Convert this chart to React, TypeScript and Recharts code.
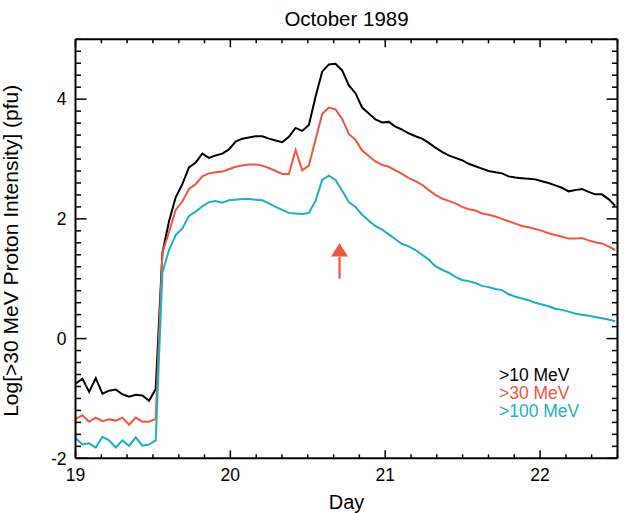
import React from "react"
import { LineChart, Line, XAxis, YAxis, Legend, ReferenceLine, ReferenceDot } from "recharts"

// sample times (day of October 1989)
const days = [
  19.002, 19.045, 19.088, 19.131, 19.174, 19.217, 19.260, 19.303, 19.346, 19.389,
  19.432, 19.475, 19.518, 19.561, 19.604, 19.647, 19.690, 19.733, 19.776, 19.819,
  19.862, 19.905, 19.948, 19.991, 20.034, 20.077, 20.120, 20.163, 20.206, 20.249,
  20.292, 20.335, 20.378, 20.421, 20.464, 20.507, 20.550, 20.593, 20.636, 20.679,
  20.722, 20.765, 20.808, 20.851, 20.894, 20.937, 20.980, 21.023, 21.066, 21.109,
  21.152, 21.195, 21.238, 21.281, 21.324, 21.367, 21.410, 21.453, 21.496, 21.539,
  21.582, 21.625, 21.668, 21.711, 21.754, 21.797, 21.840, 21.883, 21.926, 21.969,
  22.012, 22.055, 22.098, 22.141, 22.184, 22.227, 22.270, 22.313, 22.356, 22.399,
  22.442, 22.485,
]

// log10 intensity, >10 MeV
const mev10 = [
  -0.75, -0.67, -0.89, -0.66, -0.92, -0.87, -0.85, -0.93, -0.97, -0.94,
  -0.95, -1.04, -0.84, 1.43, 1.96, 2.36, 2.58, 2.86, 2.94, 3.09,
  3.02, 3.06, 3.09, 3.16, 3.29, 3.34, 3.36, 3.38, 3.38, 3.34,
  3.31, 3.28, 3.37, 3.52, 3.47, 3.57, 4.04, 4.46, 4.58, 4.59,
  4.48, 4.23, 4.10, 3.86, 3.76, 3.66, 3.61, 3.62, 3.54, 3.49,
  3.43, 3.38, 3.34, 3.27, 3.19, 3.12, 3.06, 3.02, 2.98, 2.92,
  2.88, 2.84, 2.80, 2.78, 2.76, 2.71, 2.69, 2.68, 2.67, 2.66,
  2.63, 2.60, 2.56, 2.52, 2.46, 2.48, 2.50, 2.45, 2.41, 2.41,
  2.33, 2.22,
]

// >30 MeV
const mev30 = [
  -1.34, -1.28, -1.39, -1.32, -1.38, -1.35, -1.37, -1.32, -1.44, -1.32,
  -1.39, -1.39, -1.34, 1.43, 1.78, 2.15, 2.29, 2.50, 2.58, 2.71,
  2.76, 2.78, 2.79, 2.83, 2.87, 2.89, 2.91, 2.91, 2.89, 2.85,
  2.80, 2.75, 2.75, 3.15, 2.81, 2.89, 3.32, 3.75, 3.86, 3.83,
  3.67, 3.42, 3.32, 3.14, 3.05, 2.96, 2.90, 2.87, 2.81, 2.75,
  2.68, 2.63, 2.57, 2.48, 2.40, 2.34, 2.30, 2.26, 2.20, 2.16,
  2.14, 2.09, 2.07, 2.04, 2.00, 1.96, 1.92, 1.88, 1.86, 1.83,
  1.80, 1.76, 1.73, 1.70, 1.67, 1.67, 1.68, 1.64, 1.61, 1.59,
  1.54, 1.48,
]

// >100 MeV
const mev100 = [
  -1.67, -1.77, -1.75, -1.82, -1.64, -1.70, -1.82, -1.70, -1.79, -1.65,
  -1.79, -1.77, -1.70, 1.10, 1.48, 1.73, 1.84, 2.05, 2.12, 2.21,
  2.28, 2.30, 2.27, 2.31, 2.32, 2.33, 2.33, 2.32, 2.31, 2.26,
  2.20, 2.15, 2.10, 2.09, 2.08, 2.10, 2.30, 2.65, 2.72, 2.65,
  2.47, 2.28, 2.20, 2.07, 1.97, 1.88, 1.82, 1.74, 1.66, 1.58,
  1.54, 1.48, 1.40, 1.32, 1.21, 1.15, 1.10, 1.03, 0.98, 0.96,
  0.93, 0.88, 0.86, 0.83, 0.81, 0.74, 0.70, 0.67, 0.64, 0.60,
  0.57, 0.54, 0.50, 0.48, 0.45, 0.42, 0.40, 0.38, 0.36, 0.34,
  0.32, 0.29,
]

// axis ticks (majors get labels)
const xTicks = [
  19, 19.167, 19.333, 19.5, 19.667, 19.833, 20, 20.167, 20.333, 20.5, 20.667,
  20.833, 21, 21.167, 21.333, 21.5, 21.667, 21.833, 22, 22.167, 22.333, 22.5,
]
const yTicks = [
  -2, -1.8, -1.6, -1.4, -1.2, -1, -0.8, -0.6, -0.4, -0.2, 0, 0.2, 0.4, 0.6, 0.8,
  1, 1.2, 1.4, 1.6, 1.8, 2, 2.2, 2.4, 2.6, 2.8, 3, 3.2, 3.4, 3.6, 3.8, 4, 4.2,
  4.4, 4.6, 4.8, 5,
]

const seriesOrder = ["p10", "p30", "p100"]

// flare marker arrow
const arrowDay = 20.705
const arrowFrom = 1.0
const arrowTo = 1.37
const arrowTip = 1.595

const RED = "#F0563A"
const CYAN = "#1AAFC6"
const FONT = "'Liberation Sans', Arial, Helvetica, sans-serif"

const data = days.map((d, i) => ({
  day: d,
  p10: mev10[i],
  p30: mev30[i],
  p100: mev100[i],
}))

const isMajorX = (v: number) => Number.isInteger(v)
const isMajorY = (v: number) => Number.isInteger(v) && v % 2 === 0

const BottomTick = ({ x, y, payload }: any) => {
  const major = isMajorX(payload.value)
  return (
    <g>
      <line x1={x} y1={y} x2={x} y2={y - (major ? 8 : 4)} stroke="#000" strokeWidth={1.5} />
      {major && (
        <text x={x} y={y + 23} textAnchor="middle" fontSize={17.5} fontFamily={FONT} fill="#000">
          {payload.value}
        </text>
      )}
    </g>
  )
}

const TopTick = ({ x, y, payload }: any) => {
  const major = isMajorX(payload.value)
  return <line x1={x} y1={y} x2={x} y2={y + (major ? 8 : 4)} stroke="#000" strokeWidth={1.5} />
}

const LeftTick = ({ x, y, payload }: any) => {
  const major = isMajorY(payload.value)
  return (
    <g>
      <line x1={x} y1={y} x2={x + (major ? 11 : 5.5)} y2={y} stroke="#000" strokeWidth={1.5} />
      {major && (
        <text x={x - 9} y={y + 6.3} textAnchor="end" fontSize={17.5} fontFamily={FONT} fill="#000">
          {payload.value}
        </text>
      )}
    </g>
  )
}

const RightTick = ({ x, y, payload }: any) => {
  const major = isMajorY(payload.value)
  return <line x1={x} y1={y} x2={x - (major ? 11 : 5.5)} y2={y} stroke="#000" strokeWidth={1.5} />
}

const dayLabel = (props: any) => {
  const vb = props.viewBox
  return (
    <text x={vb.x + vb.width / 2} y={vb.y + 51} textAnchor="middle" fontSize={20} fontFamily={FONT} fill="#000">
      Day
    </text>
  )
}

const titleLabel = (props: any) => {
  const vb = props.viewBox
  return (
    <text
      x={vb.x + vb.width / 2}
      y={vb.y + vb.height - 13}
      textAnchor="middle"
      fontSize={20.5}
      fontFamily={FONT}
      fill="#000"
    >
      October 1989
    </text>
  )
}

const yLabel = (props: any) => {
  const vb = props.viewBox
  const cx = vb.x + vb.width - 57.5
  const cy = vb.y + vb.height / 2 + 2
  return (
    <text
      x={cx}
      y={cy}
      transform={`rotate(-90, ${cx}, ${cy})`}
      textAnchor="middle"
      fontSize={21}
      fontFamily={FONT}
      fill="#000"
    >
      Log[&gt;30 MeV Proton Intensity] (pfu)
    </text>
  )
}

const ArrowHead = (props: any) => {
  const { cx, cy } = props
  return <polygon points={`${cx},${cy} ${cx - 8.4},${cy + 13.4} ${cx + 8.4},${cy + 13.4}`} fill={RED} />
}

const renderLegend = (props: any) => (
  <div style={{ fontFamily: FONT, fontSize: 17.5, lineHeight: "18px" }}>
    {props.payload.map((item: any) => (
      <div key={item.value} style={{ color: item.color, whiteSpace: "nowrap" }}>
        {item.value}
      </div>
    ))}
  </div>
)

export default function App() {
  return (
    <div style={{ position: "absolute", left: 0, top: 0 }}>
      <LineChart
        width={624}
        height={513}
        data={data}
        margin={{ top: 38.3, right: 5.5, bottom: 53.7, left: 74.5 }}
      >
        <XAxis
          dataKey="day"
          type="number"
          domain={[19, 22.5]}
          ticks={xTicks}
          interval={0}
          height={1}
          tickSize={0}
          tickMargin={0}
          tickLine={false}
          tick={<BottomTick />}
          axisLine={{ stroke: "#000", strokeWidth: 2 }}
          allowDataOverflow
          label={dayLabel}
        />
        <XAxis
          xAxisId="top"
          orientation="top"
          dataKey="day"
          type="number"
          domain={[19, 22.5]}
          ticks={xTicks}
          interval={0}
          height={1}
          tickSize={0}
          tickMargin={0}
          tickLine={false}
          tick={<TopTick />}
          axisLine={{ stroke: "#000", strokeWidth: 2 }}
          allowDataOverflow
          label={titleLabel}
        />
        <YAxis
          type="number"
          domain={[-2, 5]}
          ticks={yTicks}
          interval={0}
          width={1}
          tickSize={0}
          tickMargin={0}
          tickLine={false}
          tick={<LeftTick />}
          axisLine={{ stroke: "#000", strokeWidth: 2 }}
          allowDataOverflow
          label={yLabel}
        />
        <YAxis
          yAxisId="right"
          orientation="right"
          type="number"
          domain={[-2, 5]}
          ticks={yTicks}
          interval={0}
          width={1}
          tickSize={0}
          tickMargin={0}
          tickLine={false}
          tick={<RightTick />}
          axisLine={{ stroke: "#000", strokeWidth: 2 }}
          allowDataOverflow
        />
        <Line
          name=">10 MeV"
          dataKey="p10"
          type="linear"
          stroke="#000"
          strokeWidth={2}
          dot={false}
          isAnimationActive={false}
        />
        <Line
          name=">30 MeV"
          dataKey="p30"
          type="linear"
          stroke={RED}
          strokeWidth={2}
          dot={false}
          isAnimationActive={false}
        />
        <Line
          name=">100 MeV"
          dataKey="p100"
          type="linear"
          stroke={CYAN}
          strokeWidth={2}
          dot={false}
          isAnimationActive={false}
        />
        <ReferenceLine
          segment={[
            { x: arrowDay, y: arrowFrom },
            { x: arrowDay, y: arrowTo },
          ]}
          stroke={RED}
          strokeWidth={2.2}
        />
        <ReferenceDot x={arrowDay} y={arrowTip} shape={ArrowHead} />
        <Legend
          layout="vertical"
          align="center"
          verticalAlign="middle"
          content={renderLegend}
          itemSorter={(item: any) => seriesOrder.indexOf(item.dataKey)}
          wrapperStyle={{ left: 499, top: 365.5, width: 120 }}
        />
      </LineChart>
    </div>
  )
}
